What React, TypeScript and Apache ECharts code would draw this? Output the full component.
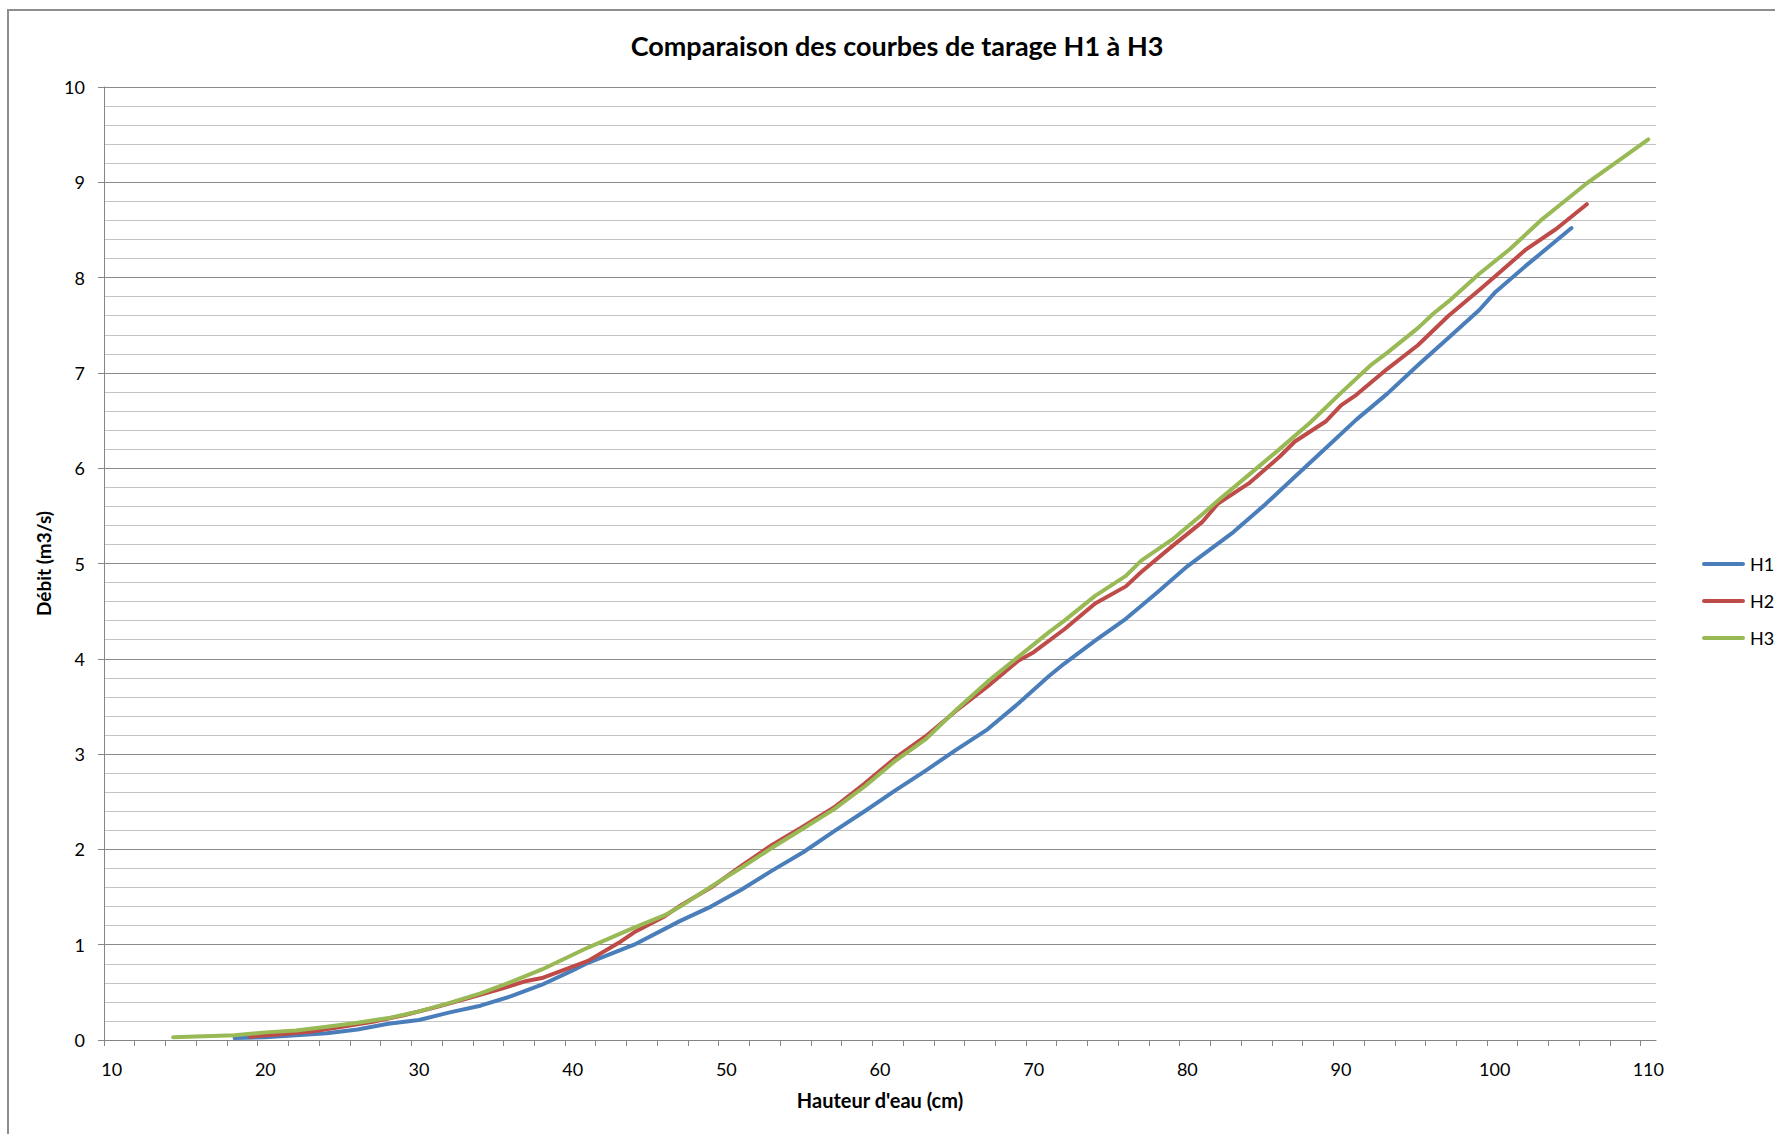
import { useEffect, useRef } from "react";
import * as echarts from "echarts";

const TITLE = "Comparaison des courbes de tarage H1 à H3";
const X_NAME = "Hauteur d'eau (cm)";
const Y_NAME = "Débit (m3/s)";
const SERIES_NAMES = ["H1", "H2", "H3"];
const COLORS = ["#4A7EBB", "#BE4B48", "#98B954"];

const X_LABELS = [10, 20, 30, 40, 50, 60, 70, 80, 90, 100, 110];
const X_TICKS = Array.from({ length: 51 }, (_, i) => 9.5 + 2 * i);

const CM_H1 = [18, 20, 22, 24, 26, 28, 30, 32, 34, 36, 38, 40, 41, 44, 47, 49, 51, 53, 55, 57, 59, 61, 63, 65, 67, 69, 71, 72, 74, 76, 78, 80, 83, 85, 87, 89, 91, 93, 95, 97, 99, 100, 102, 105];
const Q_H1 = [0.02, 0.03, 0.05, 0.07, 0.11, 0.17, 0.21, 0.29, 0.36, 0.46, 0.58, 0.73, 0.81, 1.0, 1.25, 1.4, 1.58, 1.78, 1.97, 2.19, 2.4, 2.62, 2.83, 3.05, 3.26, 3.53, 3.82, 3.95, 4.19, 4.42, 4.69, 4.97, 5.33, 5.61, 5.91, 6.21, 6.51, 6.78, 7.08, 7.37, 7.66, 7.84, 8.12, 8.52];

const CM_H2 = [19, 21, 23, 25, 27, 29, 31, 33, 35, 37, 38, 41, 43, 44, 46, 47, 49, 51, 53, 55, 57, 59, 61, 63, 65, 67, 69, 70, 72, 74, 76, 77, 79, 81, 82, 84, 86, 87, 89, 90, 91, 93, 95, 97, 99, 100, 102, 104, 106];
const Q_H2 = [0.035, 0.06, 0.09, 0.14, 0.19, 0.26, 0.34, 0.43, 0.52, 0.62, 0.65, 0.83, 1.02, 1.13, 1.3, 1.41, 1.6, 1.83, 2.05, 2.24, 2.44, 2.69, 2.96, 3.19, 3.46, 3.71, 3.98, 4.07, 4.31, 4.58, 4.76, 4.91, 5.18, 5.44, 5.63, 5.84, 6.12, 6.28, 6.49, 6.66, 6.77, 7.04, 7.29, 7.6, 7.87, 8.01, 8.29, 8.51, 8.77];

const CM_H3 = [14, 16, 18, 20, 22, 24, 26, 28, 30, 32, 34, 36, 38, 41, 44, 46, 47, 49, 51, 53, 55, 57, 59, 61, 63, 65, 67, 69, 71, 72, 74, 76, 77, 79, 81, 82, 84, 86, 88, 90, 92, 93, 95, 96, 97, 99, 101, 103, 104, 106, 108, 110];
const Q_H3 = [0.03, 0.04, 0.05, 0.08, 0.1, 0.14, 0.18, 0.23, 0.3, 0.39, 0.49, 0.61, 0.74, 0.97, 1.18, 1.31, 1.4, 1.61, 1.81, 2.02, 2.22, 2.42, 2.66, 2.93, 3.16, 3.47, 3.76, 4.02, 4.28, 4.4, 4.66, 4.87, 5.03, 5.25, 5.52, 5.66, 5.93, 6.2, 6.48, 6.79, 7.09, 7.21, 7.47, 7.62, 7.75, 8.04, 8.3, 8.6, 8.73, 8.99, 9.22, 9.45];

const FONT = "Lato, 'Open Sans', sans-serif";

export default function App() {
  const ref = useRef<HTMLDivElement>(null);
  useEffect(() => {
    if (!ref.current) return;
    const chart = echarts.init(ref.current, null, { renderer: "svg" });
    const xs = [CM_H1, CM_H2, CM_H3];
    const ys = [Q_H1, Q_H2, Q_H3];
    chart.setOption({
      animation: false,
      backgroundColor: "#ffffff",
      textStyle: { fontFamily: FONT },
      grid: { left: 104, right: 119, top: 87, bottom: 94, containLabel: false },
      graphic: [
        {
          type: "rect",
          shape: { x: 8, y: 10, width: 1800, height: 1200 },
          style: { fill: "none", stroke: "#8e8e8e", lineWidth: 2 },
          silent: true,
        },
        {
          type: "text",
          x: 897,
          y: 45,
          style: {
            text: TITLE,
            fill: "#000",
            font: `bold 27px ${FONT}`,
            textAlign: "center",
            textVerticalAlign: "middle",
          },
        },
      ],
      legend: {
        orient: "vertical",
        left: 1697,
        top: 550,
        itemWidth: 43,
        itemHeight: 14,
        itemGap: 19,
        icon: "path://M2,5 L41,5 A2,2 0 0 1 41,9 L2,9 A2,2 0 0 1 2,5 Z",
        textStyle: { fontFamily: FONT, fontSize: 18, color: "#000" },
        data: SERIES_NAMES,
      },
      xAxis: {
        type: "value",
        min: 9.5,
        max: 110.5,
        name: X_NAME,
        nameLocation: "middle",
        nameGap: 50,
        nameTextStyle: { fontFamily: FONT, fontSize: 20, fontWeight: "bold", color: "#000" },
        axisLine: { show: true, lineStyle: { color: "#868686", width: 1 } },
        axisTick: { show: true, length: 6, customValues: X_TICKS, lineStyle: { color: "#868686" } },
        axisLabel: { customValues: X_LABELS, fontFamily: FONT, fontSize: 18, color: "#000", margin: 20 },
        splitLine: { show: false },
      },
      yAxis: {
        type: "value",
        min: 0,
        max: 10,
        interval: 1,
        name: Y_NAME,
        nameLocation: "middle",
        nameGap: 48,
        nameRotate: 90,
        nameTextStyle: { fontFamily: FONT, fontSize: 19, fontWeight: "bold", color: "#000" },
        axisLine: { show: true, lineStyle: { color: "#868686", width: 1 } },
        axisTick: { show: true, length: 6, lineStyle: { color: "#868686" } },
        axisLabel: { fontFamily: FONT, fontSize: 18, color: "#000", margin: 19 },
        splitLine: { show: true, lineStyle: { color: "#8a8a8a", width: 1 } },
        minorTick: { show: false, splitNumber: 5 },
        minorSplitLine: { show: true, lineStyle: { color: "#c4c4c4", width: 1 } },
      },
      series: SERIES_NAMES.map((name, k) => ({
        name,
        type: "line",
        data: xs[k].map((x, i) => [x, ys[k][i]]),
        symbol: "none",
        showSymbol: false,
        lineStyle: { color: COLORS[k], width: 4, cap: "round", join: "round" },
        itemStyle: { color: COLORS[k] },
        z: 3 + k,
      })),
    });
    return () => chart.dispose();
  }, []);
  return (
    <div
      ref={ref}
      style={{ position: "fixed", left: 0, top: 0, width: 1775, height: 1134, background: "#fff" }}
    />
  );
}
